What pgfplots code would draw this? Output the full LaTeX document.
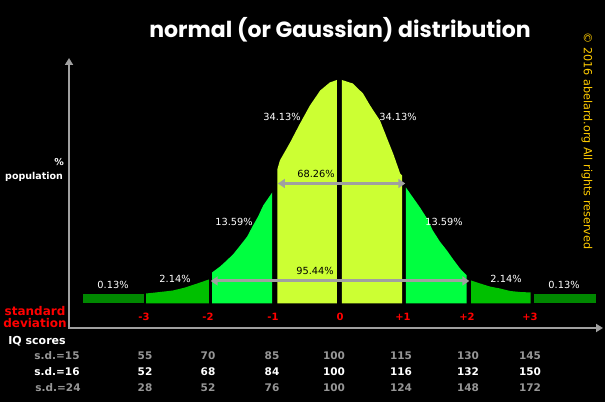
\documentclass[border=0pt]{standalone}
\usepackage{pgfplots}
\pgfplotsset{compat=1.18}
\usepackage{fontspec}
\setmainfont{DejaVu Sans}
\newfontfamily\poppins{Poppins}
\usetikzlibrary{arrows.meta}
\definecolor{tailg}{RGB}{0,136,0}
\definecolor{midg}{RGB}{0,192,0}
\definecolor{brightg}{RGB}{0,255,64}
\definecolor{yel}{RGB}{204,255,51}
\definecolor{axgray}{RGB}{160,160,160}
\definecolor{numgray}{RGB}{150,150,150}
\definecolor{gold}{RGB}{255,204,0}
\begin{document}
\begin{tikzpicture}
\begin{scope}[x=1pt,y=-1pt]
\useasboundingbox (0,0) rectangle (605,402);
\fill[black] (0,0) rectangle (605,402);
\end{scope}
\begin{axis}[at={(69pt,-328pt)}, anchor=south west, scale only axis,
  width=534pt, height=270pt,
  xmin=-4.234375, xmax=4.109375, ymin=-24.5, ymax=245.5,
  hide axis, clip=false]
% tails
\addplot[fill=tailg, draw=none] coordinates {(-4.02,0) (-4.02,9.5) (-3.06,9.5) (-3.06,0)} -- cycle;
\addplot[fill=tailg, draw=none] coordinates {(3.03,0) (3.03,9.5) (4.0,9.5) (4.0,0)} -- cycle;
% -3 to -2
\addplot[fill=midg, draw=none] coordinates {(-3.03,0) (-3.03,10) (-2.81,11.5) (-2.61,13) (-2.42,16) (-2.23,20) (-2.05,24) (-2.05,0)} -- cycle;
% -2 to -1
\addplot[fill=brightg, draw=none] coordinates {(-2.00,0) (-2.00,31) (-1.875,37) (-1.77,43) (-1.66,50) (-1.56,58) (-1.45,67) (-1.36,78) (-1.28,87) (-1.20,98) (-1.125,105) (-1.06,111) (-1.06,0)} -- cycle;
% -1 to 0
\addplot[fill=yel, draw=none] coordinates {(-0.98,0) (-0.98,134) (-0.94,143) (-0.78,161) (-0.625,180) (-0.47,198) (-0.31,213) (-0.16,221) (-0.05,223.5) (-0.05,0)} -- cycle;
% 0 to 1
\addplot[fill=yel, draw=none] coordinates {(0.03,0) (0.03,223.5) (0.20,220) (0.36,210) (0.47,198) (0.625,183) (0.73,166) (0.83,150) (0.94,130) (0.97,128) (0.97,0)} -- cycle;
% 1 to 2
\addplot[fill=brightg, draw=none] coordinates {(1.03,0) (1.03,116) (1.14,106) (1.25,96) (1.36,85) (1.45,73) (1.56,62) (1.67,53) (1.77,44) (1.875,35) (1.98,28) (1.98,0)} -- cycle;
% 2 to 3
\addplot[fill=midg, draw=none] coordinates {(2.05,0) (2.05,23) (2.19,20) (2.34,17) (2.5,15) (2.66,12.5) (2.81,11.5) (2.98,11) (2.98,0)} -- cycle;
% range arrows
\addplot[axgray, line width=3pt, {Triangle[length=7pt,width=9pt]}-{Triangle[length=7pt,width=9pt]}] coordinates {(-0.97,120) (1.02,120)};
\addplot[axgray, line width=3pt, {Triangle[length=7pt,width=9pt]}-{Triangle[length=7pt,width=9pt]}] coordinates {(-2.02,22.5) (2.02,22.5)};
\end{axis}
\begin{scope}[x=1pt,y=-1pt]
\draw[axgray, line width=2pt, {Triangle[length=7pt,width=8pt]}-{Triangle[length=7pt,width=8pt]}] (69,58) -- (69,328) -- (603,328);
% title
\node[white, font=\poppins\bfseries\fontsize{22}{24}\selectfont] at (340,30) {normal (or Gaussian) distribution};
% copyright
\node[gold, rotate=-90, font=\fontsize{11.2}{12}\selectfont] at (587,141) {© 2016 abelard.org All rights reserved};
% left labels
\node[white, font=\bfseries\fontsize{9.5}{11}\selectfont] at (59,162) {\%};
\node[white, font=\bfseries\fontsize{9.5}{11}\selectfont] at (34,177) {population};
\node[red, font=\bfseries\fontsize{12}{12}\selectfont] at (35,311) {standard};
\node[red, font=\bfseries\fontsize{12}{12}\selectfont] at (35,323) {deviation};
\node[white, font=\bfseries\fontsize{11}{12}\selectfont] at (37,341) {IQ scores};
% sd labels
\foreach \x/\t in {144/-3,208/-2,273/-1,340/0,403/+1,467/+2,530/+3}
  \node[red, font=\bfseries\fontsize{10}{12}\selectfont] at (\x,317) {\t};
% percentages
\tikzset{pct/.style={font=\fontsize{9.8}{11}\selectfont}}
\node[white,pct] at (282,117) {34.13\%};
\node[white,pct] at (398,117) {34.13\%};
\node[black,pct] at (316,174) {68.26\%};
\node[white,pct] at (234,222) {13.59\%};
\node[white,pct] at (444,222) {13.59\%};
\node[black,pct] at (315,271) {95.44\%};
\node[white,pct] at (175,279) {2.14\%};
\node[white,pct] at (506,279) {2.14\%};
\node[white,pct] at (113,285) {0.13\%};
\node[white,pct] at (564,285) {0.13\%};
% IQ table
\tikzset{iq/.style={font=\bfseries\fontsize{10.5}{12}\selectfont}}
\node[numgray,iq] at (57,356) {s.d.=15};
\node[white,iq] at (57,372) {s.d.=16};
\node[numgray,iq] at (58,388) {s.d.=24};
\foreach \x/\a/\b/\c in {145/55/52/28,208/70/68/52,272/85/84/76,334/100/100/100,401/115/116/124,468/130/132/148,530/145/150/172}{
  \node[numgray,iq] at (\x,356) {\a};
  \node[white,iq] at (\x,372) {\b};
  \node[numgray,iq] at (\x,388) {\c};
}
\end{scope}
\end{tikzpicture}
\end{document}
